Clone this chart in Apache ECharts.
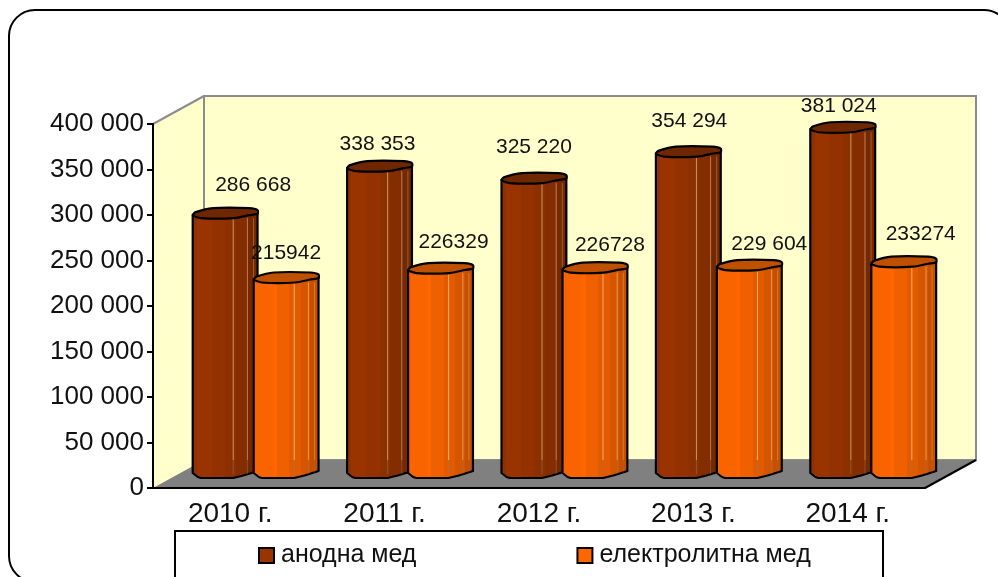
<!DOCTYPE html>
<html>
<head>
<meta charset="utf-8">
<style>
html, body { margin: 0; padding: 0; background: #fff; }
#chart { width: 998px; height: 577px; }
</style>
<script src="https://cdn.jsdelivr.net/npm/echarts@6/dist/echarts.min.js"></script>
</head>
<body>
<div id="chart"></div>
<script>
var categories = ['2010 г.', '2011 г.', '2012 г.', '2013 г.', '2014 г.'];
var anodeValues = [286668, 338353, 325220, 354294, 381024];
var electroValues = [215942, 226329, 226728, 229604, 233274];
var anodeLabels = ['286 668', '338 353', '325 220', '354 294', '381 024'];
var electroLabels = ['215942', '226329', '226728', '229 604', '233274'];

// label nudges, the source chart has them hand placed
var anodeShift = [[28, -33], [-2, -27], [0, -36], [1, -35], [-4, -26]];
var electroShift = [[0, -29], [13, -31], [15, -27], [20, -26], [17, -33]];

var FONT = '"Liberation Sans", Arial, sans-serif';
var gridLeft = 153, gridTop = 124, gridW = 772, gridH = 364;
var depthX = 51, depthY = 28;

// bar outline, drawn for a 64px wide bar
var capShape = [[0, -3], [3, -6], [20, -10], [56, -10], [64, -8], [64, -4.5], [56, -3], [41, 0], [8, 0]];
var footShape = [[64, -7], [58, -5], [50, -2.5], [40, 0], [8, 0], [5, -1], [0, -5]];
var stripes = [[40, 0.5], [54, 0.4], [60, 0.25]];

var anodeLook = {
    left: -37.5, cap: '#6e2700', flat: '#993300',
    bands: [[0, '#8f3100'], [0.08, '#993300'], [0.3, '#933200'], [0.5, '#8c3000'],
        [0.66, '#842d00'], [0.84, '#762900'], [1, '#6a2500']]
};
var electroLook = {
    left: 23.5, cap: '#bf5000', flat: '#ff6600',
    bands: [[0, '#f96400'], [0.3, '#ff6600'], [0.36, '#ef6000'], [0.55, '#e25b00'],
        [0.72, '#d65600'], [0.86, '#c65000'], [1, '#b84a00']]
};

function bandGradient(bands) {
    var stops = [];
    for (var i = 0; i < bands.length - 1; i++) {
        stops.push({ offset: bands[i][0], color: bands[i][1] });
        stops.push({ offset: bands[i + 1][0], color: bands[i][1] });
    }
    return new echarts.graphic.LinearGradient(0, 0, 1, 0, stops);
}

function makeBar(look, labels, shift) {
    return function (params, api) {
        var i = api.value(0);
        var zero = api.coord([i, 0]);
        var top = api.coord([i, api.value(1)]);
        var w = api.size([1, 0])[0] * 0.42;
        var k = w / 64;
        var x0 = zero[0] + look.left;
        var yFoot = zero[1] - 10;
        var yTop = top[1] - 9;
        var yFloor = zero[1] - depthY;

        var body = [[x0, yTop - 3], [x0 + w, yTop - 5]];
        footShape.forEach(function (p) {
            body.push([x0 + p[0] * k, yFoot + p[1]]);
        });
        var cap = capShape.map(function (p) {
            return [x0 + p[0] * k, yTop + p[1]];
        });

        var children = [{
            type: 'polygon',
            shape: { points: body },
            style: { fill: bandGradient(look.bands), stroke: '#000', lineWidth: 2.2, lineJoin: 'round' }
        }];
        stripes.forEach(function (s) {
            var sx = x0 + s[0] * k;
            children.push({
                type: 'line',
                shape: { x1: sx, y1: yTop, x2: sx, y2: yFloor },
                style: { stroke: 'rgba(255,255,204,' + s[1] + ')', lineWidth: 1 }
            });
            children.push({
                type: 'line',
                shape: { x1: sx, y1: yFloor, x2: sx, y2: yFoot - 4 },
                style: { stroke: 'rgba(128,128,128,' + s[1] + ')', lineWidth: 1 }
            });
        });
        children.push({
            type: 'polygon',
            shape: { points: cap, smooth: 0.25 },
            style: { fill: look.cap, stroke: '#000', lineWidth: 2.2, lineJoin: 'round' }
        });
        children.push({
            type: 'text',
            style: {
                text: labels[i],
                x: x0 + w / 2 + shift[i][0],
                y: yTop + shift[i][1],
                fill: '#111',
                font: '21px ' + FONT,
                textAlign: 'center',
                textVerticalAlign: 'middle'
            }
        });
        return { type: 'group', children: children };
    };
}

function pairs(values) {
    return values.map(function (v, i) { return [i, v]; });
}

var chart = echarts.init(document.getElementById('chart'), null, { renderer: 'canvas' });
chart.setOption({
    animation: false,
    backgroundColor: '#fff',
    grid: { left: gridLeft, top: gridTop, width: gridW, height: gridH },
    legend: {
        left: 258,
        top: 543,
        padding: 0,
        itemWidth: 15,
        itemHeight: 15,
        itemGap: 160,
        icon: 'rect',
        data: ['анодна мед', 'електролитна мед'],
        textStyle: { fontFamily: FONT, fontSize: 25, color: '#111', padding: [0, 0, 0, 2] }
    },
    xAxis: {
        type: 'category',
        data: categories,
        axisLine: { lineStyle: { color: '#000', width: 2 } },
        axisTick: { length: 6, lineStyle: { color: '#000', width: 2 } },
        axisLabel: { margin: 12, color: '#111', fontFamily: FONT, fontSize: 28 }
    },
    yAxis: {
        type: 'value',
        min: 0,
        max: 400000,
        interval: 50000,
        splitLine: { show: false },
        axisLine: { show: true, lineStyle: { color: '#000', width: 2 } },
        axisTick: { show: true, length: 6, lineStyle: { color: '#000', width: 2 } },
        axisLabel: {
            margin: 9,
            color: '#111',
            fontFamily: FONT,
            fontSize: 26,
            padding: [0, 0, 3, 0],
            formatter: function (v) {
                return String(v).replace(/\B(?=(\d{3})+$)/g, ' ');
            }
        }
    },
    graphic: [
        // walls and floor
        {
            type: 'polygon', z: -5,
            shape: { points: [[gridLeft, gridTop], [gridLeft + depthX, gridTop - depthY],
                [gridLeft + depthX, gridTop + gridH - depthY], [gridLeft, gridTop + gridH]] },
            style: { fill: '#ffffcc' }
        },
        {
            type: 'rect', z: -5,
            shape: { x: gridLeft + depthX, y: gridTop - depthY, width: gridW, height: gridH },
            style: { fill: '#ffffcc', stroke: '#8c8c8c', lineWidth: 2 }
        },
        {
            type: 'polyline', z: -4,
            shape: { points: [[gridLeft, gridTop], [gridLeft + depthX, gridTop - depthY]] },
            style: { fill: 'none', stroke: '#8c8c8c', lineWidth: 2 }
        },
        {
            type: 'polygon', z: -3,
            shape: { points: [[gridLeft, gridTop + gridH], [gridLeft + depthX, gridTop + gridH - depthY],
                [gridLeft + depthX + gridW, gridTop + gridH - depthY], [gridLeft + gridW, gridTop + gridH]] },
            style: { fill: '#808080' }
        },
        {
            type: 'polyline', z: -2,
            shape: { points: [[gridLeft + gridW, gridTop + gridH], [gridLeft + depthX + gridW, gridTop + gridH - depthY]] },
            style: { fill: 'none', stroke: '#000', lineWidth: 2 }
        },
        // outer frame, runs past the window at right and bottom
        {
            type: 'rect', z: -6,
            shape: { x: 9, y: 10, width: 1001, height: 572, r: 26 },
            style: { fill: '#fff', stroke: '#000', lineWidth: 2 }
        },
        // legend box
        {
            type: 'rect', z: -5,
            shape: { x: 175, y: 531, width: 708, height: 60 },
            style: { fill: '#fff', stroke: '#000', lineWidth: 2 }
        }
    ],
    series: [
        {
            name: 'анодна мед',
            type: 'custom',
            itemStyle: { color: anodeLook.flat, borderColor: '#000', borderWidth: 2 },
            renderItem: makeBar(anodeLook, anodeLabels, anodeShift),
            encode: { x: 0, y: 1 },
            data: pairs(anodeValues)
        },
        {
            name: 'електролитна мед',
            type: 'custom',
            itemStyle: { color: electroLook.flat, borderColor: '#000', borderWidth: 2 },
            renderItem: makeBar(electroLook, electroLabels, electroShift),
            encode: { x: 0, y: 1 },
            data: pairs(electroValues)
        }
    ]
});
</script>
</body>
</html>
